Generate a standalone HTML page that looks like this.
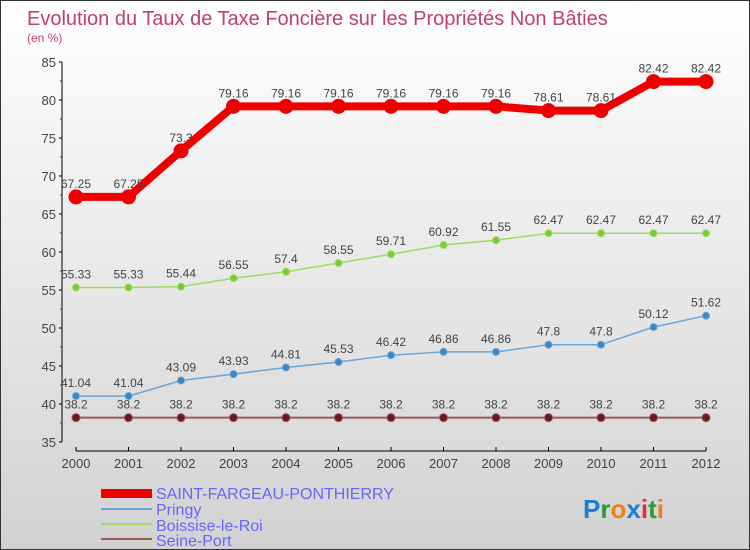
<!DOCTYPE html>
<html><head><meta charset="utf-8"><style>
body{margin:0;}
#c{position:relative;width:750px;height:550px;overflow:hidden;box-sizing:border-box;border:1px solid #333;background:linear-gradient(#ffffff,#d2d2d2);font-family:"Liberation Sans",sans-serif;}
</style></head><body>
<div id="c">
<svg id="s" width="750" height="550" style="position:absolute;left:0;top:0">
<text x="26" y="24" font-size="20" fill="#c0406a">Evolution du Taux de Taxe Foncière sur les Propriétés Non Bâties</text>
<text x="26" y="41" font-size="12" fill="#c0406a">(en %)</text>
<g id="g"></g>
<g>
<rect x="100" y="488" width="51" height="9" fill="#ee0000"/>
<text x="155" y="498" font-size="16" fill="#6666ff">SAINT-FARGEAU-PONTHIERRY</text>
<rect x="100" y="507" width="51" height="2" fill="#6aa6d6"/>
<text x="155" y="514" font-size="16" fill="#6666ff">Pringy</text>
<rect x="100" y="522" width="51" height="2" fill="#99dd66"/>
<text x="155" y="530" font-size="16" fill="#6666ff">Boissise-le-Roi</text>
<rect x="100" y="537" width="51" height="2" fill="#9a5a5a"/>
<text x="155" y="545" font-size="16" fill="#6666ff">Seine-Port</text>
</g>
<g font-size="26" font-weight="bold">
<text x="582" y="517"><tspan fill="#1a7fd0">P</tspan><tspan fill="#2a9a3a">r</tspan><tspan fill="#f08010">o</tspan><tspan fill="#1a7fd0">x</tspan><tspan fill="#e03030">i</tspan><tspan fill="#2a9a3a">t</tspan><tspan fill="#f08010">i</tspan></text>
</g>
</svg>
</div>
<script>
const years=["2000","2001","2002","2003","2004","2005","2006","2007","2008","2009","2010","2011","2012"];
const saint=[67.25,67.25,73.3,79.16,79.16,79.16,79.16,79.16,79.16,78.61,78.61,82.42,82.42];
const pringy=[41.04,41.04,43.09,43.93,44.81,45.53,46.42,46.86,46.86,47.8,47.8,50.12,51.62];
const boissise=[55.33,55.33,55.44,56.55,57.4,58.55,59.71,60.92,61.55,62.47,62.47,62.47,62.47];
const seine=[38.2,38.2,38.2,38.2,38.2,38.2,38.2,38.2,38.2,38.2,38.2,38.2,38.2];
const yTicks=[35,40,45,50,55,60,65,70,75,80,85];
const NS="http://www.w3.org/2000/svg";
const g=document.getElementById('g');
const X=i=>75+i*(705-75)/(years.length-1);
const Y=v=>441-(v-35)*(441-61)/50;
function el(t,a,p){const e=document.createElementNS(NS,t);for(const k in a)e.setAttribute(k,a[k]);(p||g).appendChild(e);return e;}
let e=el('line',{x1:61,y1:61,x2:61,y2:441,stroke:'#000'});


e=el('line',{x1:75,y1:450,x2:705,y2:450,stroke:'#000'});


yTicks.forEach((v,i)=>{
 el('line',{x1:58,y1:Y(v),x2:61,y2:Y(v),stroke:'#000'});
 if(i<yTicks.length-1) el('line',{x1:59,y1:Y(v+2.5),x2:61,y2:Y(v+2.5),stroke:'#d00'});
 const t=el('text',{x:55,y:Y(v)+5,'font-size':13,fill:'#444','text-anchor':'end'});t.textContent=v;
 
 
});
years.forEach((y,i)=>{
 el('line',{x1:X(i),y1:446,x2:X(i),y2:450,stroke:'#000'});
 const t=el('text',{x:X(i),y:467,'font-size':13,fill:'#444','text-anchor':'middle'});t.textContent=y;
 
 
});
function series(vals,color,w,r,dot,name){
 const grp=el('g',{});
 
 
 el('polyline',{points:vals.map((v,i)=>X(i)+','+Y(v)).join(' '),fill:'none',stroke:color,'stroke-width':w,'stroke-linejoin':'round'},grp);
 vals.forEach((v,i)=>{
  const c=el('circle',{cx:X(i),cy:Y(v),r:r,fill:dot,stroke:color},grp);
  
  
  const t=el('text',{x:X(i),y:Y(v)-9,'font-size':12,fill:'#444','text-anchor':'middle'},grp);t.textContent=v;
  
  
 });
}
series(seine,'#9a5a5a',2,4,'#6a1a1a','seine-port-series');
series(pringy,'#6aa6d6',1.5,3.5,'#3a86c6','pringy-series');
series(boissise,'#99dd66',1.5,3.5,'#77cc33','boissise-series');
series(saint,'#ee0000',8,7,'#ee0000','saint-fargeau-series');
</script>
</body></html>
